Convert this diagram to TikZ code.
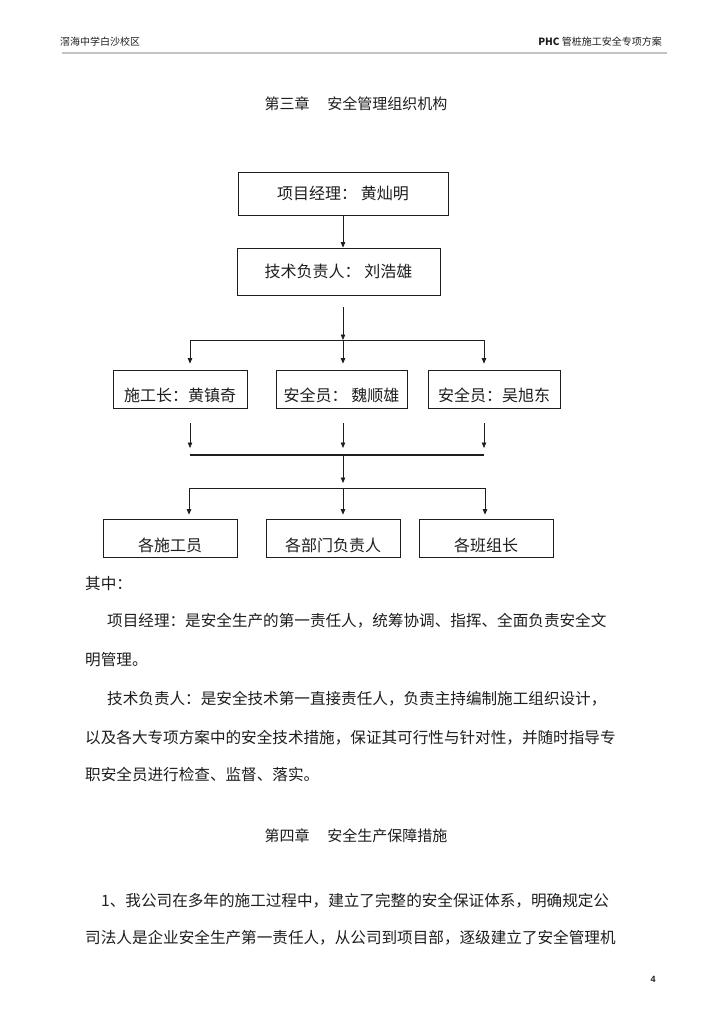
\documentclass[tikz,border=0pt]{standalone}
\usepackage{fontspec}
\setmainfont{Liberation Sans}
\newfontfamily\cjk{Noto Sans CJK SC}
\usetikzlibrary{arrows.meta}
\definecolor{ink}{HTML}{1E1E1E}
\definecolor{rulegray}{HTML}{C4C4C4}
\newcommand{\hfont}{\fontsize{10}{12}\selectfont}
\newcommand{\bfont}{\fontsize{15.6}{18}\selectfont}
\newcommand{\tfont}{\fontsize{15}{18}\selectfont}

\begin{document}
\begin{tikzpicture}[x=1pt,y=-1pt,
  every node/.style={font=\cjk, text=ink},
  box/.style={draw=ink, line width=0.8pt, inner sep=0pt, font=\cjk\fontsize{16}{18}\selectfont},
  link/.style={draw=ink, line width=0.7pt, -{Triangle[length=5.5pt,width=4.5pt]}},
  bus/.style={draw=ink, line width=0.7pt},
  body/.style={anchor=west, inner sep=0pt, font=\cjk\bfont}]
\useasboundingbox[fill=white] (0,0) rectangle (724,1024);
% header
\node[anchor=west, inner sep=0pt, font=\cjk\hfont] (school) at (60,42) {滘海中学白沙校区};
\node[anchor=east, inner sep=0pt, font=\cjk\hfont] (plan) at (662,42) {\textbf{PHC} 管桩施工安全专项方案};
\draw[rulegray, line width=1.2pt] (62,53) -- (667,53);
\node[font=\cjk\tfont, inner sep=0pt] (title3) at (356,104) {第三章\hspace{1.2em}安全管理组织机构};
% chart boxes
\node[box, minimum width=210pt, minimum height=43pt] (pm) at (343,193.5) {项目经理： 黄灿明};
\node[box, minimum width=203pt, minimum height=47pt] (tech) at (338.5,271.5) {技术负责人： 刘浩雄};
\node[box, minimum width=134pt, minimum height=38pt, text height=25pt, text depth=1pt] (sup) at (180,389) {施工长：黄镇奇};
\node[box, minimum width=131pt, minimum height=38pt, text height=25pt, text depth=1pt] (safeA) at (341.5,389) {安全员： 魏顺雄};
\node[box, minimum width=132pt, minimum height=38pt, text height=25pt, text depth=1pt] (safeB) at (494,389) {安全员：吴旭东};
\node[box, minimum width=134pt, minimum height=38pt, text height=27pt, text depth=1pt] (crew) at (170,538) {各施工员};
\node[box, minimum width=134pt, minimum height=38pt, text height=27pt, text depth=1pt] (dept) at (333,538) {各部门负责人};
\node[box, minimum width=134pt, minimum height=38pt, text height=27pt, text depth=1pt] (team) at (486,538) {各班组长};
% bus points
\coordinate (bus1L) at (190,340); \coordinate (bus1M) at (343,340); \coordinate (bus1R) at (484,340);
\coordinate (bus2L) at (190,455); \coordinate (bus2M) at (343,455); \coordinate (bus2R) at (484,455);
\coordinate (bus3L) at (189,488); \coordinate (bus3M) at (343,488); \coordinate (bus3R) at (485,488);
% connectors
\draw[link] (pm.south) -- (pm.south |- tech.north);
\draw[link, shorten <=12pt] (tech.south -| bus1M) -- (bus1M);
\draw[bus] (bus1L) -- (bus1R);
\foreach \c/\n in {bus1L/sup, bus1M/safeA, bus1R/safeB}
  \draw[link, shorten >=6pt] (\c) -- (\c |- \n.north);
\foreach \c/\n in {bus2L/sup, bus2M/safeA, bus2R/safeB}
  \draw[link, shorten <=15pt, shorten >=7pt] (\c |- \n.south) -- (\c);
\draw[bus, line width=2.2pt] (bus2L) -- (bus2R);
\draw[link, shorten >=5pt] (bus2M) -- (bus3M);
\draw[bus] (bus3L) -- (bus3R);
\foreach \c/\n in {bus3L/crew, bus3M/dept, bus3R/team}
  \draw[link, shorten >=4pt] (\c) -- (\c |- \n.north);
% text below
\node[body] (l1) at (85,584) {其中：};
\node[body] (l2) at (107,621) {项目经理：是安全生产的第一责任人，统筹协调、指挥、全面负责安全文};
\node[body] (l3) at (85,660) {明管理。};
\node[body] (l4) at (107,699) {技术负责人：是安全技术第一直接责任人，负责主持编制施工组织设计，};
\node[body] (l5) at (85,738) {以及各大专项方案中的安全技术措施，保证其可行性与针对性，并随时指导专};
\node[body] (l6) at (85,775) {职安全员进行检查、监督、落实。};
\node[font=\cjk\tfont, inner sep=0pt] (title4) at (356,836) {第四章\hspace{1.2em}安全生产保障措施};
\node[body] (l7) at (101,901) {1、我公司在多年的施工过程中，建立了完整的安全保证体系，明确规定公};
\node[body] (l8) at (85,938) {司法人是企业安全生产第一责任人，从公司到项目部，逐级建立了安全管理机};
\node[inner sep=0pt, font=\bfseries\fontsize{9}{10}\selectfont] (pageno) at (653,979) {4};
\end{tikzpicture}
\end{document}
